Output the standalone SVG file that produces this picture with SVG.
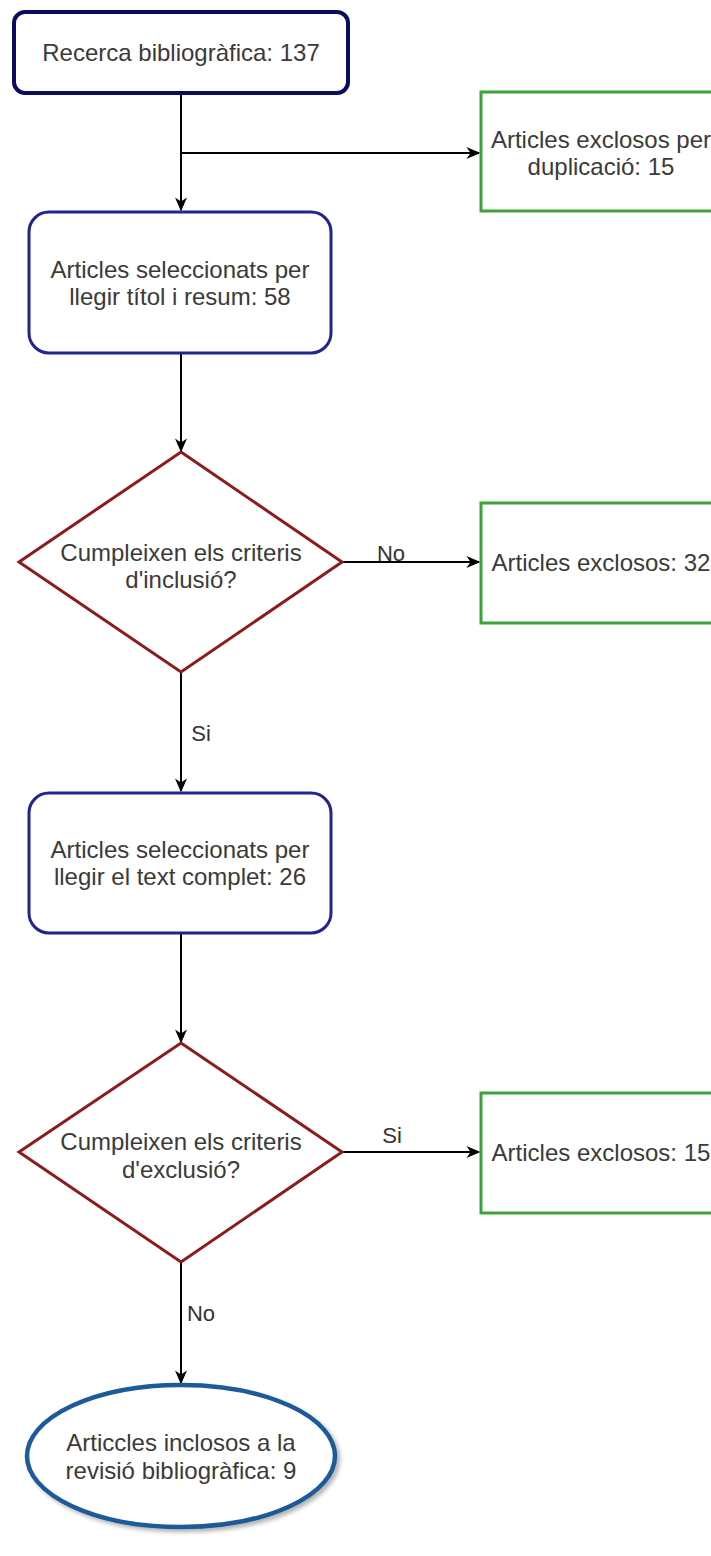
<svg xmlns="http://www.w3.org/2000/svg" width="711" height="1556" viewBox="0 0 711 1556">
<style>
  text { font-family: "Liberation Sans", Arial, sans-serif; font-size: 24px; fill: #3a3a3a; text-anchor: middle; }
  .lbl { font-size: 22px; fill: #333; }
  .edge { stroke: #000; stroke-width: 2; fill: none; }
  .start { fill: #fff; stroke: #0c0c5e; stroke-width: 4; }
  .proc { fill: #fff; stroke: #23238f; stroke-width: 3; }
  .dec { fill: #fff; stroke: #8e1b1b; stroke-width: 3; }
  .excl { fill: #fff; stroke: #3aa33a; stroke-width: 3; }
  .end { fill: #fff; stroke: #1c5a98; stroke-width: 4.5; }
</style>
<defs>
  <marker id="arr" viewBox="0 0 10 10" refX="9" refY="5" markerWidth="14" markerHeight="12" markerUnits="userSpaceOnUse" orient="auto" preserveAspectRatio="none">
    <path d="M0,0 L10,5 L0,10 L3,5 z" fill="#000"/>
  </marker>
  <filter id="sh" x="-20%" y="-20%" width="140%" height="140%">
    <feGaussianBlur in="SourceAlpha" stdDeviation="2"/>
    <feOffset dx="3" dy="3"/>
    <feComponentTransfer><feFuncA type="linear" slope="0.3"/></feComponentTransfer>
    <feMerge><feMergeNode/><feMergeNode in="SourceGraphic"/></feMerge>
  </filter>
</defs>
<rect width="711" height="1556" fill="#fff"/>

<g id="connectors">
  <line class="edge" x1="181" y1="93" x2="181" y2="210" marker-end="url(#arr)"/>
  <line class="edge" x1="181" y1="153" x2="479" y2="153" marker-end="url(#arr)"/>
  <line class="edge" x1="181" y1="353" x2="181" y2="451" marker-end="url(#arr)"/>
  <line class="edge" x1="342" y1="562" x2="479" y2="562" marker-end="url(#arr)"/>
  <text class="lbl" x="391" y="561">No</text>
  <line class="edge" x1="181" y1="672" x2="181" y2="791" marker-end="url(#arr)"/>
  <text class="lbl" x="201" y="741">Si</text>
  <line class="edge" x1="181" y1="933" x2="181" y2="1042" marker-end="url(#arr)"/>
  <line class="edge" x1="342" y1="1152" x2="479" y2="1152" marker-end="url(#arr)"/>
  <text class="lbl" x="392" y="1143">Si</text>
  <line class="edge" x1="181" y1="1262" x2="181" y2="1383" marker-end="url(#arr)"/>
  <text class="lbl" x="201" y="1321">No</text>
</g>

<g id="n1">
  <rect class="start" x="14" y="12" width="334" height="81" rx="11"/>
  <text x="181" y="61">Recerca bibliogràfica: 137</text>
</g>

<g id="n2">
  <rect class="excl" x="481" y="92" width="240" height="119"/>
  <text x="601" y="148">Articles exclosos per</text>
  <text x="601" y="175">duplicació: 15</text>
</g>

<g id="n3">
  <rect class="proc" x="29" y="212" width="302" height="141" rx="20"/>
  <text x="180" y="278">Articles seleccionats per</text>
  <text x="180" y="305">llegir títol i resum: 58</text>
</g>

<g id="n4">
  <polygon class="dec" points="181,452 342,562 181,672 19,562"/>
  <text x="181" y="561">Cumpleixen els criteris</text>
  <text x="181" y="588">d'inclusió?</text>
</g>

<g id="n5">
  <rect class="excl" x="481" y="503" width="240" height="120"/>
  <text x="601" y="571">Articles exclosos: 32</text>
</g>

<g id="n6">
  <rect class="proc" x="29" y="793" width="302" height="140" rx="20"/>
  <text x="180" y="858">Articles seleccionats per</text>
  <text x="180" y="885">llegir el text complet: 26</text>
</g>

<g id="n7">
  <polygon class="dec" points="181,1043 342,1152 181,1262 19,1152"/>
  <text x="181" y="1150">Cumpleixen els criteris</text>
  <text x="181" y="1178">d'exclusió?</text>
</g>

<g id="n8">
  <rect class="excl" x="481" y="1093" width="240" height="120"/>
  <text x="601" y="1161">Articles exclosos: 15</text>
</g>

<g id="n9">
  <ellipse class="end" cx="181" cy="1456" rx="154" ry="71" filter="url(#sh)"/>
  <text x="181" y="1451">Articcles inclosos a la</text>
  <text x="181" y="1479">revisió bibliogràfica: 9</text>
</g>
</svg>
